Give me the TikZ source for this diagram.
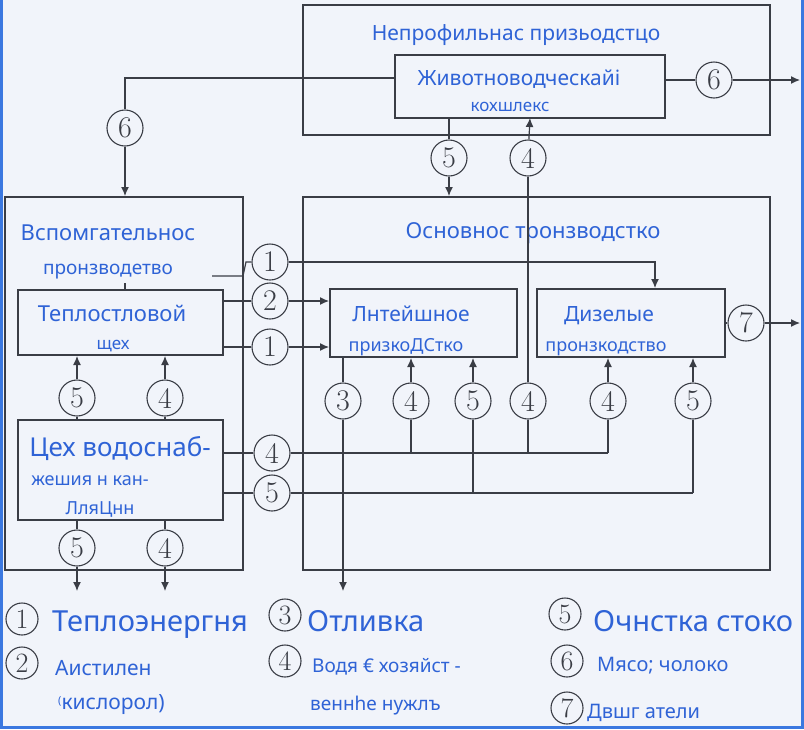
\documentclass[tikz,border=0pt]{standalone}
\usepackage{fontspec}
\setmainfont{Noto Sans}
\usetikzlibrary{arrows.meta}
\definecolor{bg}{HTML}{F1F4FA}
\definecolor{txt}{HTML}{2F63D6}
\definecolor{ln}{HTML}{3A3D45}
\definecolor{frm}{HTML}{3B78E0}
\newcommand{\fs}[1]{\fontsize{#1}{#1}\selectfont}
\begin{document}
\begin{tikzpicture}[x=1pt,y=-1pt,
  bx/.style={draw=ln,line width=1.2pt,inner sep=0pt},
  cn/.style={circle,draw=ln,line width=1.1pt,minimum size=36pt,inner sep=0pt,font=\fontspec{Latin Modern Roman}\fs{30},text=ln},
  lg/.style={circle,draw=ln,line width=1.1pt,minimum size=32pt,inner sep=0pt,font=\fontspec{Latin Modern Roman}\fs{28},text=ln},
  t/.style={text=txt,inner sep=0pt,anchor=base},
  tb/.style={text=txt,inner sep=0pt,anchor=base west,font=\fs{29}},
  ts/.style={text=txt,inner sep=0pt,anchor=base west,font=\fs{20}},
  w/.style={draw=ln,line width=1.2pt},
  a/.style={w,-{Latex[length=9pt,width=8pt]}}]
\fill[bg] (0,0) rectangle (804,729);
\useasboundingbox (0,0) rectangle (804,729);
\draw[frm,line width=3pt] (1.5,0) -- (1.5,727.5) -- (802.5,727.5) -- (802.5,0);
% boxes
\draw[bx] (303,5) rectangle (770,135);
\draw[bx] (395,55) rectangle (665,118);
\draw[bx] (303,197) rectangle (770,570);
\draw[bx] (5,197) rectangle (243,570);
\draw[bx] (18,290) rectangle (223,355);
\draw[bx] (18,420) rectangle (223,520);
\draw[bx] (330,289) rectangle (517,357);
\draw[bx] (537,289) rectangle (725,357);
\coordinate (zb) at (530,118);
% texts
\node[t,font=\fs{21}] (t1) at (516,40) {Непрофильнас призьодстцо};
\node[t,font=\fs{21}] (t2) at (519,85) {Животноводческайі};
\node[t,font=\fs{17}] (t3) at (510,111) {кохшлекс};
\node[t,font=\fs{22}] (t4) at (533,238) {Основнос тронзводстко};
\node[t,font=\fs{22}] (t5) at (108,240) {Вспомгательнос};
\node[t,font=\fs{19}] (t6) at (108,274) {пронзводетво};
\node[t,font=\fs{22}] (t7) at (112,321) {Теплостловой};
\node[t,font=\fs{17}] (t8) at (113,349) {щех};
\node[t,font=\fs{21}] (l1) at (411,321) {Лнтейшное};
\node[t,font=\fs{18}] (l2) at (406,351) {призкоДСтко};
\node[t,font=\fs{21}] (d1) at (609,321) {Дизелые};
\node[t,font=\fs{18}] (d2) at (606,351) {пронзкодство};
\node[t,font=\fs{26}] (v1) at (120,456) {Цех водоснаб-};
\node[t,font=\fs{18}] (v2) at (90,485) {жешия н кан-};
\node[t,font=\fs{18}] (v3) at (100,514) {ЛляЦнн};
% circles
\node[cn] (c6a) at (714,80) {6};
\node[cn] (c6b) at (125,128) {6};
\node[cn] (c5t) at (449,158) {5};
\node[cn] (c4t) at (528,158) {4};
\node[cn] (c1a) at (270,262) {1};
\node[cn] (c2) at (270,301) {2};
\node[cn] (c1b) at (270,347) {1};
\node[cn] (c7) at (746,323) {7};
\node[cn] (c3) at (343,401) {3};
\node[cn] (c4a) at (411,401) {4};
\node[cn] (c5a) at (473,401) {5};
\node[cn] (c4b) at (528,401) {4};
\node[cn] (c4c) at (608,401) {4};
\node[cn] (c5b) at (693,401) {5};
\node[cn] (c5l) at (77,398) {5};
\node[cn] (c4l) at (165,398) {4};
\node[cn] (c4w) at (272,453) {4};
\node[cn] (c5w) at (272,493) {5};
\node[cn] (c5d) at (77,548) {5};
\node[cn] (c4d) at (165,548) {4};
% connectors
\draw[w] (665,80) -- (c6a); \draw[a] (c6a) -- (800,80);
\draw[w] (395,78) -| (c6b); \draw[a] (c6b) -- (125,196);
\draw[w] (449,118) -- (c5t); \draw[a] (c5t) -- (449,196);
\draw[a] (c4t) -- (zb);
\draw[w] (c4b) -- (c4t);
\draw[w] (125,283) -- (125,290);
\draw[w] (212,276) -- (243,276) -- (246,262) -- (c1a);
\draw[a] (c1a) -- (655,262) -- (655,288);
\draw[w] (223,301) -- (c2); \draw[a] (c2) -- (329,301);
\draw[w] (223,347) -- (c1b); \draw[a] (c1b) -- (329,347);
\draw[w] (725,323) -- (c7); \draw[a] (c7) -- (800,323);
\draw[w] (343,357) -- (c3); \draw[a] (c3) -- (343,591);
\draw[a] (c4a) -- (411,358); \draw[a] (c5a) -- (473,358);
\draw[a] (c4c) -- (608,358); \draw[a] (c5b) -- (693,358);
\draw[w] (c4a) -- (411,453); \draw[w] (c4b) -- (528,453); \draw[w] (c4c) -- (608,453);
\draw[w] (c5a) -- (473,493); \draw[w] (c5b) -- (693,493);
\draw[w] (223,453) -- (c4w) -- (608,453);
\draw[w] (223,493) -- (c5w) -- (693,493);
\draw[a] (c5l) -- (77,356); \draw[w] (77,420) -- (c5l);
\draw[a] (c4l) -- (165,356); \draw[w] (165,420) -- (c4l);
\draw[w] (77,520) -- (c5d); \draw[a] (c5d) -- (77,591);
\draw[w] (165,520) -- (c4d); \draw[a] (c4d) -- (165,591);
% legend
\node[lg] (g1) at (22,619) {1};
\node[lg] (g2) at (22,663) {2};
\node[lg] (g3) at (285,615) {3};
\node[lg] (g4) at (285,661) {4};
\node[lg] (g5) at (565,614) {5};
\node[lg] (g6) at (567,661) {6};
\node[lg] (g7) at (567,708) {7};
\node[tb] (k1) at (52,631) {Теплоэнергня};
\node[tb] (k3) at (307,631) {Отливка};
\node[tb] (k5) at (593,631) {Очнстка стоко};
\node[ts,font=\fs{21}] (k2) at (55,675) {Аистилен};
\node[ts,font=\fs{21}] (k2b) at (58,709) {\raisebox{5pt}{\fs{11}(}кислорол)};
\node[ts,font=\fs{19}] (k4) at (312,672) {Водя € хозяйст -};
\node[ts,font=\fs{19}] (k4b) at (310,710) {веннhе нужлъ};
\node[ts,font=\fs{20}] (k6) at (597,671) {Мясо; чолоко};
\node[ts,font=\fs{20}] (k7) at (587,718) {Двшг атели};
\end{tikzpicture}
\end{document}
